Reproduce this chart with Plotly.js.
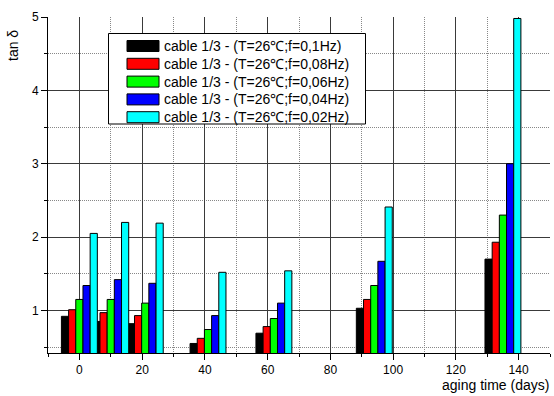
<!DOCTYPE html>
<html><head><meta charset="utf-8">
<script src="https://cdn.plot.ly/plotly-3.0.1.min.js"></script>
<style>html,body{margin:0;padding:0;background:#fff;}#chart{width:554px;height:396px;}</style>
</head><body><div id="chart"></div>
<script>
const days = [0, 10, 21, 41, 62, 94, 135];
const tan_f010 = [0.92, 0.85, 0.82, 0.55, 0.69, 1.03, 1.70];
const tan_f008 = [1.01, 0.97, 0.93, 0.62, 0.78, 1.15, 1.93];
const tan_f006 = [1.15, 1.15, 1.10, 0.74, 0.89, 1.34, 2.30];
const tan_f004 = [1.34, 1.42, 1.37, 0.93, 1.10, 1.67, 3.00];
const tan_f002 = [2.05, 2.20, 2.19, 1.52, 1.54, 2.41, 4.98];
const seriesNames = [
  'cable 1/3 - (T=26\u2103;f=0,1Hz)',
  'cable 1/3 - (T=26\u2103;f=0,08Hz)',
  'cable 1/3 - (T=26\u2103;f=0,06Hz)',
  'cable 1/3 - (T=26\u2103;f=0,04Hz)',
  'cable 1/3 - (T=26\u2103;f=0,02Hz)'
];
const seriesValues = [tan_f010, tan_f008, tan_f006, tan_f004, tan_f002];
const seriesColors = ['#000000', '#ff0000', '#00ff00', '#0000ff', '#00ffff'];

const W = 554, H = 396;
const M = {l: 48, r: 4, t: 17, b: 43};
const PW = W - M.l - M.r, PH = H - M.t - M.b;
const px = v => (v - M.l) / PW;          // pixel x -> paper x
const py = v => (H - M.b - v) / PH;      // pixel y -> paper y

const barW = 2.29;
const traces = seriesValues.map((vals, i) => ({
  type: 'bar',
  name: seriesNames[i],
  x: days,
  y: vals,
  width: barW,
  offset: -2.5 * barW + i * barW,
  marker: {color: seriesColors[i], line: {color: '#000', width: 1}},
  showlegend: false
}));

const font = 'Arial, "Liberation Sans", sans-serif';

// custom legend (box, swatches, labels) to mirror the original layout
const shapes = [{type: 'rect', xref: 'paper', yref: 'paper',
  x0: px(108.5), x1: px(365.5), y0: py(33.5), y1: py(124),
  line: {color: '#000', width: 1}, fillcolor: '#fff', layer: 'above'}];
const annotations = [];
const rowY0 = 46, rowStep = 17.8;
seriesNames.forEach((nm, i) => {
  const cy = rowY0 + i * rowStep;
  shapes.push({type: 'rect', xref: 'paper', yref: 'paper',
    x0: px(127), x1: px(159), y0: py(cy - 5.5), y1: py(cy + 5.5),
    line: {color: '#000', width: 1}, fillcolor: seriesColors[i], layer: 'above'});
  annotations.push({text: nm, xref: 'paper', yref: 'paper', x: px(162), y: py(cy),
    xanchor: 'left', yanchor: 'middle', showarrow: false,
    font: {family: font, size: 14, color: '#000'}});
});
annotations.push({text: 'tan \u03b4', xref: 'paper', yref: 'paper', x: px(13), y: py(46), textangle: -90,
  showarrow: false, xanchor: 'center', yanchor: 'middle', font: {family: font, size: 14, color: '#000'}});
annotations.push({text: 'aging time (days)', xref: 'paper', yref: 'paper', x: px(551), y: py(385),
  showarrow: false, xanchor: 'right', yanchor: 'middle', font: {family: font, size: 14, color: '#000'}});

const layout = {
  width: W, height: H,
  margin: M,
  paper_bgcolor: '#fff', plot_bgcolor: '#fff',
  font: {family: font, size: 12, color: '#000'},
  barmode: 'overlay',
  showlegend: false,
  xaxis: {range: [-10, 150], tick0: 0, dtick: 20, showgrid: true, gridcolor: '#3a3a3a', gridwidth: 1,
    showline: true, linecolor: '#000', linewidth: 1, ticks: 'outside', ticklen: 6, tickcolor: '#000',
    zeroline: false, tickfont: {family: font, size: 12, color: '#000'},
    minor: {tick0: 0, dtick: 10, ticks: 'outside', ticklen: 3, tickcolor: '#000',
      showgrid: true, gridcolor: '#888', griddash: '1px,1px', gridwidth: 1}},
  yaxis: {range: [0.42, 5], tick0: 0, dtick: 1, showgrid: true, gridcolor: '#3a3a3a', gridwidth: 1,
    showline: true, linecolor: '#000', linewidth: 1, ticks: 'outside', ticklen: 6, tickcolor: '#000',
    zeroline: false, tickfont: {family: font, size: 12, color: '#000'},
    minor: {tick0: 0, dtick: 0.5, ticks: 'outside', ticklen: 3, tickcolor: '#000',
      showgrid: true, gridcolor: '#888', griddash: '1px,1px', gridwidth: 1}},
  shapes: shapes,
  annotations: annotations
};
Plotly.newPlot('chart', traces, layout, {displayModeBar: false, staticPlot: true});
</script></body></html>
